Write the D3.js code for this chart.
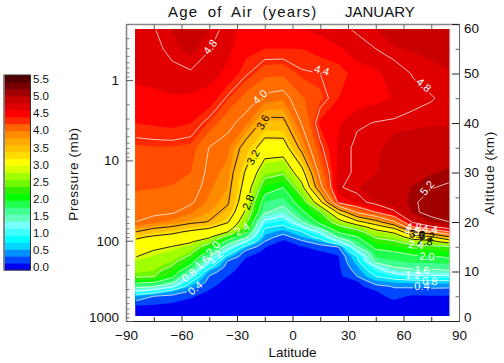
<!DOCTYPE html>
<html lang="en">
<head>
<meta charset="UTF-8">
<title>Age of Air</title>
<script src="https://d3js.org/d3.v7.min.js"></script>
<style>
    body { margin: 0; background: #fff; }
    text { font-family: "Liberation Sans", Arial, sans-serif; fill: #111; }
</style>
</head>
<body>
<div id="my_dataviz"></div>
<script>
// model grid: latitude columns, altitude rows (km)
const lats = [-85, -75, -65, -55, -45, -35, -25, -15, -5, 5, 15, 25, 35, 45, 55, 65, 75, 85];
const altRows = [1, 3, 5, 6, 7, 8, 9, 10, 11, 12, 13, 14, 15, 16, 17, 18, 19, 20, 22, 24, 27, 30, 35, 40, 45, 50, 55, 59];

// age of air in years, one line per latitude, bottom row first
const age = [
    [.1, .18, .6, 1.2, 1.75, 2.15, 2.45, 2.52, 2.62, 2.71, 2.81, 2.91, 3.01, 3.12, 3.27, 3.6, 3.8, 4.0, 4.08, 4.16, 4.24, 4.28, 4.33, 4.5, 4.62, 4.67, 4.72, 4.75],
    [.1, .17, .4, 1.0, 1.65, 2.08, 2.42, 2.49, 2.56, 2.63, 2.7, 2.77, 2.88, 3.02, 3.15, 3.4, 3.68, 3.9, 4.06, 4.14, 4.23, 4.28, 4.34, 4.52, 4.63, 4.68, 4.76, 4.79],
    [.08, .14, .33, .63, 1.3, 1.75, 2.07, 2.22, 2.38, 2.49, 2.6, 2.7, 2.79, 2.93, 3.08, 3.28, 3.58, 3.8, 4.03, 4.12, 4.21, 4.27, 4.34, 4.54, 4.63, 4.76, 4.84, 4.89],
    [.06, .12, .22, .38, .6, .85, 1.2, 1.62, 1.92, 2.13, 2.34, 2.5, 2.67, 2.83, 2.98, 3.13, 3.4, 3.68, 3.88, 4.04, 4.15, 4.22, 4.32, 4.5, 4.62, 4.78, 4.92, 4.97],
    [.05, .08, .14, .18, .24, .3, .38, .55, .95, 1.28, 1.62, 1.9, 2.18, 2.52, 2.88, 3.05, 3.26, 3.58, 3.72, 3.81, 3.88, 3.93, 3.99, 4.34, 4.6, 4.7, 4.81, 4.88],
    [.04, .06, .08, .1, .12, .15, .2, .24, .28, .37, .67, 1.06, 1.46, 1.86, 2.25, 2.8, 3.02, 3.23, 3.5, 3.64, 3.72, 3.79, 3.89, 4.08, 4.37, 4.62, 4.68, 4.74],
    [.03, .05, .06, .07, .08, .09, .1, .12, .14, .16, .21, .3, .65, 1.2, 1.7, 2.08, 2.4, 2.5, 2.72, 2.88, 3.02, 3.14, 3.45, 3.88, 4.15, 4.42, 4.55, 4.58],
    [.02, .03, .04, .05, .06, .07, .08, .09, .1, .12, .14, .17, .21, .39, .55, .68, .85, 1.1, 1.65, 1.8, 2.18, 2.55, 3.0, 3.5, 3.93, 4.27, 4.5, 4.58],
    [.02, .02, .03, .03, .04, .04, .05, .06, .07, .08, .09, .1, .12, .15, .28, .52, .72, .94, 1.42, 1.71, 2.0, 2.46, 3.0, 3.52, 3.88, 4.26, 4.5, 4.58],
    [.02, .03, .03, .04, .05, .06, .07, .08, .09, .1, .12, .14, .19, .33, .6, .78, 1.2, 1.58, 1.93, 2.18, 2.68, 3.05, 3.72, 4.02, 4.2, 4.38, 4.5, 4.65],
    [.02, .03, .04, .05, .06, .08, .09, .11, .13, .15, .17, .19, .29, .57, .95, 1.28, 1.8, 2.1, 2.37, 3.09, 3.9, 4.12, 4.35, 4.53, 4.32, 4.4, 4.55, 4.7],
    [.03, .06, .08, .1, .12, .14, .15, .16, .17, .18, .19, .24, .42, 1.2, 1.7, 2.05, 2.3, 2.62, 3.3, 4.5, 4.78, 4.7, 4.68, 4.63, 4.5, 4.42, 4.63, 4.75],
    [.04, .06, .08, .1, .14, .19, .4, .48, .58, .7, .8, 1.2, 1.62, 1.8, 1.99, 2.26, 2.6, 3.08, 4.06, 4.7, 4.87, 4.85, 4.86, 4.77, 4.55, 4.58, 4.72, 4.83],
    [.05, .08, .14, .19, .33, .55, .8, 1.0, 1.22, 1.7, 1.82, 1.92, 2.08, 2.27, 2.45, 2.67, 3.0, 3.44, 4.42, 4.9, 4.95, 4.87, 4.84, 4.81, 4.6, 4.62, 4.8, 4.88],
    [.05, .1, .26, .35, .42, .66, .98, 1.35, 1.65, 1.78, 1.89, 2.0, 2.18, 2.35, 2.58, 2.87, 3.35, 3.96, 4.76, 5.0, 5.06, 5.02, 4.95, 4.83, 4.66, 4.72, 4.87, 4.94],
    [.05, .1, .17, .33, .43, .7, 1.12, 1.45, 1.72, 1.83, 1.95, 2.1, 2.3, 2.6, 3.0, 3.56, 4.38, 4.84, 5.16, 5.17, 5.13, 5.05, 4.96, 4.85, 4.75, 4.81, 4.89, 4.96],
    [.05, .1, .19, .32, .45, .74, 1.12, 1.47, 1.72, 1.83, 1.97, 2.16, 2.33, 2.66, 3.18, 3.95, 4.75, 5.12, 5.27, 5.28, 5.19, 5.11, 5.0, 4.86, 4.79, 4.86, 4.9, 4.98],
    [.05, .1, .19, .3, .45, .74, 1.12, 1.56, 1.74, 1.86, 2.05, 2.2, 2.36, 2.96, 3.6, 4.4, 5.0, 5.2, 5.28, 5.3, 5.23, 5.14, 5.04, 4.86, 4.84, 4.87, 4.95, 5.0]
];

// colour bar, one colour per 0.2 yr band
const bandColors = ["#0000f0", "#0048ff", "#0090ff", "#00d8ff", "#00ffff", "#40ffff", "#78ffff", "#60ffc0", "#40ff90", "#20ff50",
    "#00ff00", "#30f000", "#70f800", "#a0ff00", "#d8ff00", "#ffff00", "#ffdd00", "#ffc000", "#ffa800", "#ff8c00",
    "#ff6400", "#ff2800", "#ff0000", "#e00000", "#c80000", "#a00000", "#780000", "#500000"];
// the image does not line up exactly with the contour lines, so it keeps its own levels
const plotColors = ["#0000f0", "#0048ff", "#0090ff", "#00d8ff", "#00ffff", "#40ffff", "#78ffff", "#60ffc0", "#40ff90", "#20ff50",
    "#00ff00", "#30f000", "#70f800", "#a0ff00", "#d8ff00", "#ffff00", "#ffdd00", "#ffc000", "#ffa800", "#ff8c00",
    "#ff6c00", "#ff4c00", "#ff2800", "#ff0000", "#e00000", "#c80000", "#a00000"];
const fillLevels = [0, .2, .4, .6, .8, 1, 1.2, 1.4, 1.6, 1.8,
    2, 2.2, 2.4, 2.5, 2.72, 2.8, 3.15, 3.35, 3.55, 3.72,
    3.85, 4.22, 4.35, 4.5, 4.65, 4.88, 5.12];
const lineLevels = [0.4, 0.8, 1.2, 1.6, 2.0, 2.4, 2.8, 3.2, 3.6, 4.0, 4.4, 4.8, 5.2];
const darkLines = [2.8, 3.2, 3.6];

const barTicks = [0, 0.5, 1, 1.5, 2, 2.5, 3, 3.5, 4, 4.5, 5, 5.5];
const latTicks = [-90, -60, -30, 0, 30, 60, 90];
const latMinor = [-75, -45, -15, 15, 45, 75];
const pressTicks = [1, 10, 100, 1000];
const pressMinor = [.2, .3, .4, .5, .6, .7, .8, .9, 2, 3, 4, 5, 6, 7, 8, 9, 20, 30, 40, 50, 60, 70, 80, 90, 200, 300, 400, 500, 600, 700, 800, 900];
const altTicks = [0, 10, 20, 30, 40, 50, 60];
const altMinor = [5, 15, 25, 35, 45, 55];

// labels sitting on the contour lines
const labelText = ["4.8", "4.4", "4.8", "4.0", "3.6", "3.2", "2.8", "2.4", "2.0", "1.6", "1.2", "0.8", "0.4", "5.2", "4.8", "4.4", "4.0", "3.6", "3.2", "2.8", "2.4", "2.0", "1.6", "1.2", "0.8", "0.4"];
const labelLat = [-44.6, 15.9, 71, -17.6, -16, -21.4, -24, -27.3, -43, -48.9, -41.9, -56, -52.7, 72.7, 65.7, 74.3, 64.6, 67.3, 72.7, 71.6, 66.8, 72.7, 70, 65.1, 74.3, 70];
const labelAlt = [55.4, 50.7, 47.7, 45.3, 40.2, 33.1, 24, 18.6, 14.7, 11.9, 12.9, 9.3, 6.7, 26.9, 19, 18.6, 18.2, 17.6, 17.2, 16.2, 15.4, 13.1, 10.3, 9.3, 8.1, 7.1];
const labelAngle = [-52, 15, 40, -45, -60, -62, -68, -30, -50, -40, -40, -38, -40, -50, 5, 5, 5, 5, 5, 5, 5, 3, 3, 3, 3, 0];
const labelGap = [1, 1, 1, 1, 1, 1, 1, 1, 1, 1, 1, 1, 1, 1, 0, 0, 0, 0, 0, 0, 0, 1, 1, 0, 0, 1];

const width = 504, height = 363;
const svg = d3.select("#my_dataviz").append("svg")
    .attr("width", width).attr("height", height)
    .style("display", "block");

const x = d3.scaleLinear().domain([-90, 90]).range([126, 459]);
const yAlt = d3.scaleLinear().domain([0, 60]).range([321, 24]);
const yPress = d3.scaleLog().domain([1000, 0.2]).range([321, 24]);

// contours work in grid units, value i sits at i + 0.5
const nx = lats.length, ny = altRows.length;
const colToLat = d3.scaleLinear().domain(d3.range(nx)).range(lats).clamp(true);
const rowToAlt = d3.scaleLinear().domain(d3.range(ny)).range(altRows).clamp(true);
const path = d3.geoPath(d3.geoTransform({
    point(px, py) {
        this.stream.point(x(colToLat(px - 0.5)), yAlt(rowToAlt(py - 0.5)));
    }
}));

const values = [];
for (let r = 0; r < ny; r++) {
    for (let c = 0; c < nx; c++) values.push(age[c][r]);
}
const contours = d3.contours().size([nx, ny]);

// filled bands
svg.append("g").selectAll("path")
    .data(contours.thresholds(fillLevels)(values))
    .join("path")
    .attr("d", path)
    .attr("fill", (d, i) => plotColors[i]);

// light strip at the right side of the image
svg.append("line")
    .attr("x1", x(85)).attr("x2", x(85))
    .attr("y1", yAlt(59)).attr("y2", yAlt(1))
    .attr("stroke", "#bbb").attr("stroke-width", 1);

// line gaps under the labels, and a clip so ring edges along the grid border do not show
const defs = svg.append("defs");
defs.append("clipPath").attr("id", "inner").append("rect")
    .attr("x", x(-85) + 1).attr("y", yAlt(59) + 1)
    .attr("width", x(85) - x(-85) - 2).attr("height", yAlt(1) - yAlt(59) - 2);
const mask = defs.append("mask").attr("id", "gaps").attr("maskUnits", "userSpaceOnUse")
    .attr("x", 0).attr("y", 0).attr("width", width).attr("height", height);
mask.append("rect").attr("width", width).attr("height", height).attr("fill", "#fff");
labelText.forEach((t, i) => {
    if (!labelGap[i]) return;
    mask.append("rect")
        .attr("x", -9).attr("y", -5).attr("width", 18).attr("height", 10)
        .attr("fill", "#000")
        .attr("transform", `translate(${x(labelLat[i])},${yAlt(labelAlt[i])}) rotate(${labelAngle[i]})`);
});

svg.append("g").attr("clip-path", "url(#inner)")
    .append("g").attr("mask", "url(#gaps)")
    .selectAll("path")
    .data(contours.thresholds(lineLevels)(values))
    .join("path")
    .attr("d", path)
    .attr("fill", "none")
    .attr("stroke", d => darkLines.includes(d.value) ? "#1a1a1a" : "#fff")
    .attr("stroke-opacity", d => darkLines.includes(d.value) ? 0.95 : 0.72)
    .attr("stroke-width", 1);

svg.append("g").selectAll("text")
    .data(labelText)
    .join("text")
    .attr("transform", (d, i) => `translate(${x(labelLat[i])},${yAlt(labelAlt[i])}) rotate(${labelAngle[i]})`)
    .attr("text-anchor", "middle")
    .attr("dy", "0.36em")
    .attr("font-size", 11)
    .style("fill", d => darkLines.includes(+d) ? "#000" : "#fff")
    .text(d => d);

// axes, ticks point into the plot
const fmt = d3.format("d");
function styleAxis(g, col) {
    g.select(".domain").attr("stroke", col);
    g.selectAll("line").attr("stroke", col);
    g.selectAll("text").attr("font-size", 13.5);
}
svg.append("g").attr("transform", `translate(0,${yAlt(0)})`)
    .call(d3.axisBottom(x).tickValues(latTicks).tickSizeInner(-6).tickSizeOuter(0).tickPadding(9))
    .call(styleAxis, "#222");
svg.append("g").attr("transform", `translate(0,${yAlt(0)})`)
    .call(d3.axisBottom(x).tickValues(latMinor).tickSizeInner(-4).tickSizeOuter(0).tickFormat(""))
    .call(styleAxis, "#222");
svg.append("g").attr("transform", `translate(0,${yAlt(60)})`)
    .call(d3.axisTop(x).tickValues(latTicks.concat(latMinor)).tickSizeInner(-5).tickSizeOuter(0).tickFormat(""))
    .call(styleAxis, "#666")
    .select(".domain").attr("stroke-width", 1.6).attr("stroke", "#888");
const leftAxis = svg.append("g").attr("transform", `translate(${x(-90)},0)`)
    .call(d3.axisLeft(yPress).tickValues(pressTicks).tickSizeInner(-7).tickSizeOuter(0).tickPadding(7).tickFormat(fmt))
    .call(styleAxis, "#555");
leftAxis.select(".domain").attr("stroke-width", 1.6).attr("stroke", "#888");
// the bottom label sits above the axis end, like the right axis
leftAxis.selectAll(".tick text").attr("dy", d => d === 1000 ? "0.05em" : "0.32em");
svg.append("g").attr("transform", `translate(${x(-90)},0)`)
    .call(d3.axisLeft(yPress).tickValues(pressMinor).tickSizeInner(-3.5).tickSizeOuter(0).tickFormat(""))
    .call(styleAxis, "#777")
    .select(".domain").attr("stroke", "none");
const rightAxis = svg.append("g").attr("transform", `translate(${x(90)},0)`)
    .call(d3.axisRight(yAlt).tickValues(altTicks).tickSizeInner(-7).tickSizeOuter(0).tickPadding(5).tickFormat(fmt))
    .call(styleAxis, "#222");
// the end labels sit inside the axis range
rightAxis.selectAll(".tick text").attr("dy", d => d === 60 ? "0.62em" : d === 0 ? "0.05em" : "0.32em");
svg.append("g").attr("transform", `translate(${x(90)},0)`)
    .call(d3.axisRight(yAlt).tickValues(altMinor).tickSizeInner(-3.5).tickSizeOuter(0).tickFormat(""))
    .call(styleAxis, "#666");

// titles
svg.append("text").attr("x", 168).attr("y", 17).attr("font-size", 15)
    .attr("letter-spacing", 1.2).attr("word-spacing", 4).text("Age of Air (years)");
svg.append("text").attr("x", 345).attr("y", 17).attr("font-size", 15).text("JANUARY");
svg.append("text").attr("x", 292.5).attr("y", 357).attr("text-anchor", "middle")
    .attr("font-size", 13.5).text("Latitude");
svg.append("text").attr("transform", "translate(78,174) rotate(-90)").attr("text-anchor", "middle")
    .attr("font-size", 13.5).attr("letter-spacing", 0.6).text("Pressure (mb)");
svg.append("text").attr("transform", "translate(494,173) rotate(-90)").attr("text-anchor", "middle")
    .attr("font-size", 13.5).attr("letter-spacing", 0.6).text("Altitude (km)");

// colour bar
const barY = d3.scaleLinear().domain([0, 5.6]).range([270, 75]);
const barLabelY = d3.scaleLinear().domain([0, 5.5]).range([267, 79]);
svg.append("g").selectAll("rect")
    .data(bandColors)
    .join("rect")
    .attr("x", 4).attr("width", 26.5)
    .attr("y", (d, i) => barY((i + 1) * 0.2))
    .attr("height", barY(0) - barY(0.2) + 0.5)
    .attr("fill", d => d);
svg.append("rect").attr("x", 4).attr("y", 75).attr("width", 26.5).attr("height", 195)
    .attr("fill", "none").attr("stroke", "#333").attr("stroke-width", 1);
svg.append("line").attr("x1", 4).attr("x2", 4).attr("y1", 75).attr("y2", 270)
    .attr("stroke", "#888").attr("stroke-width", 1.6);
svg.append("g").attr("transform", "translate(33,0)")
    .call(d3.axisRight(barLabelY).tickValues(barTicks).tickSize(0).tickPadding(0).tickFormat(d3.format(".1f")))
    .call(g => g.select(".domain").remove())
    .call(g => g.selectAll("text").attr("font-size", 11.5));
</script>
</body>
</html>
